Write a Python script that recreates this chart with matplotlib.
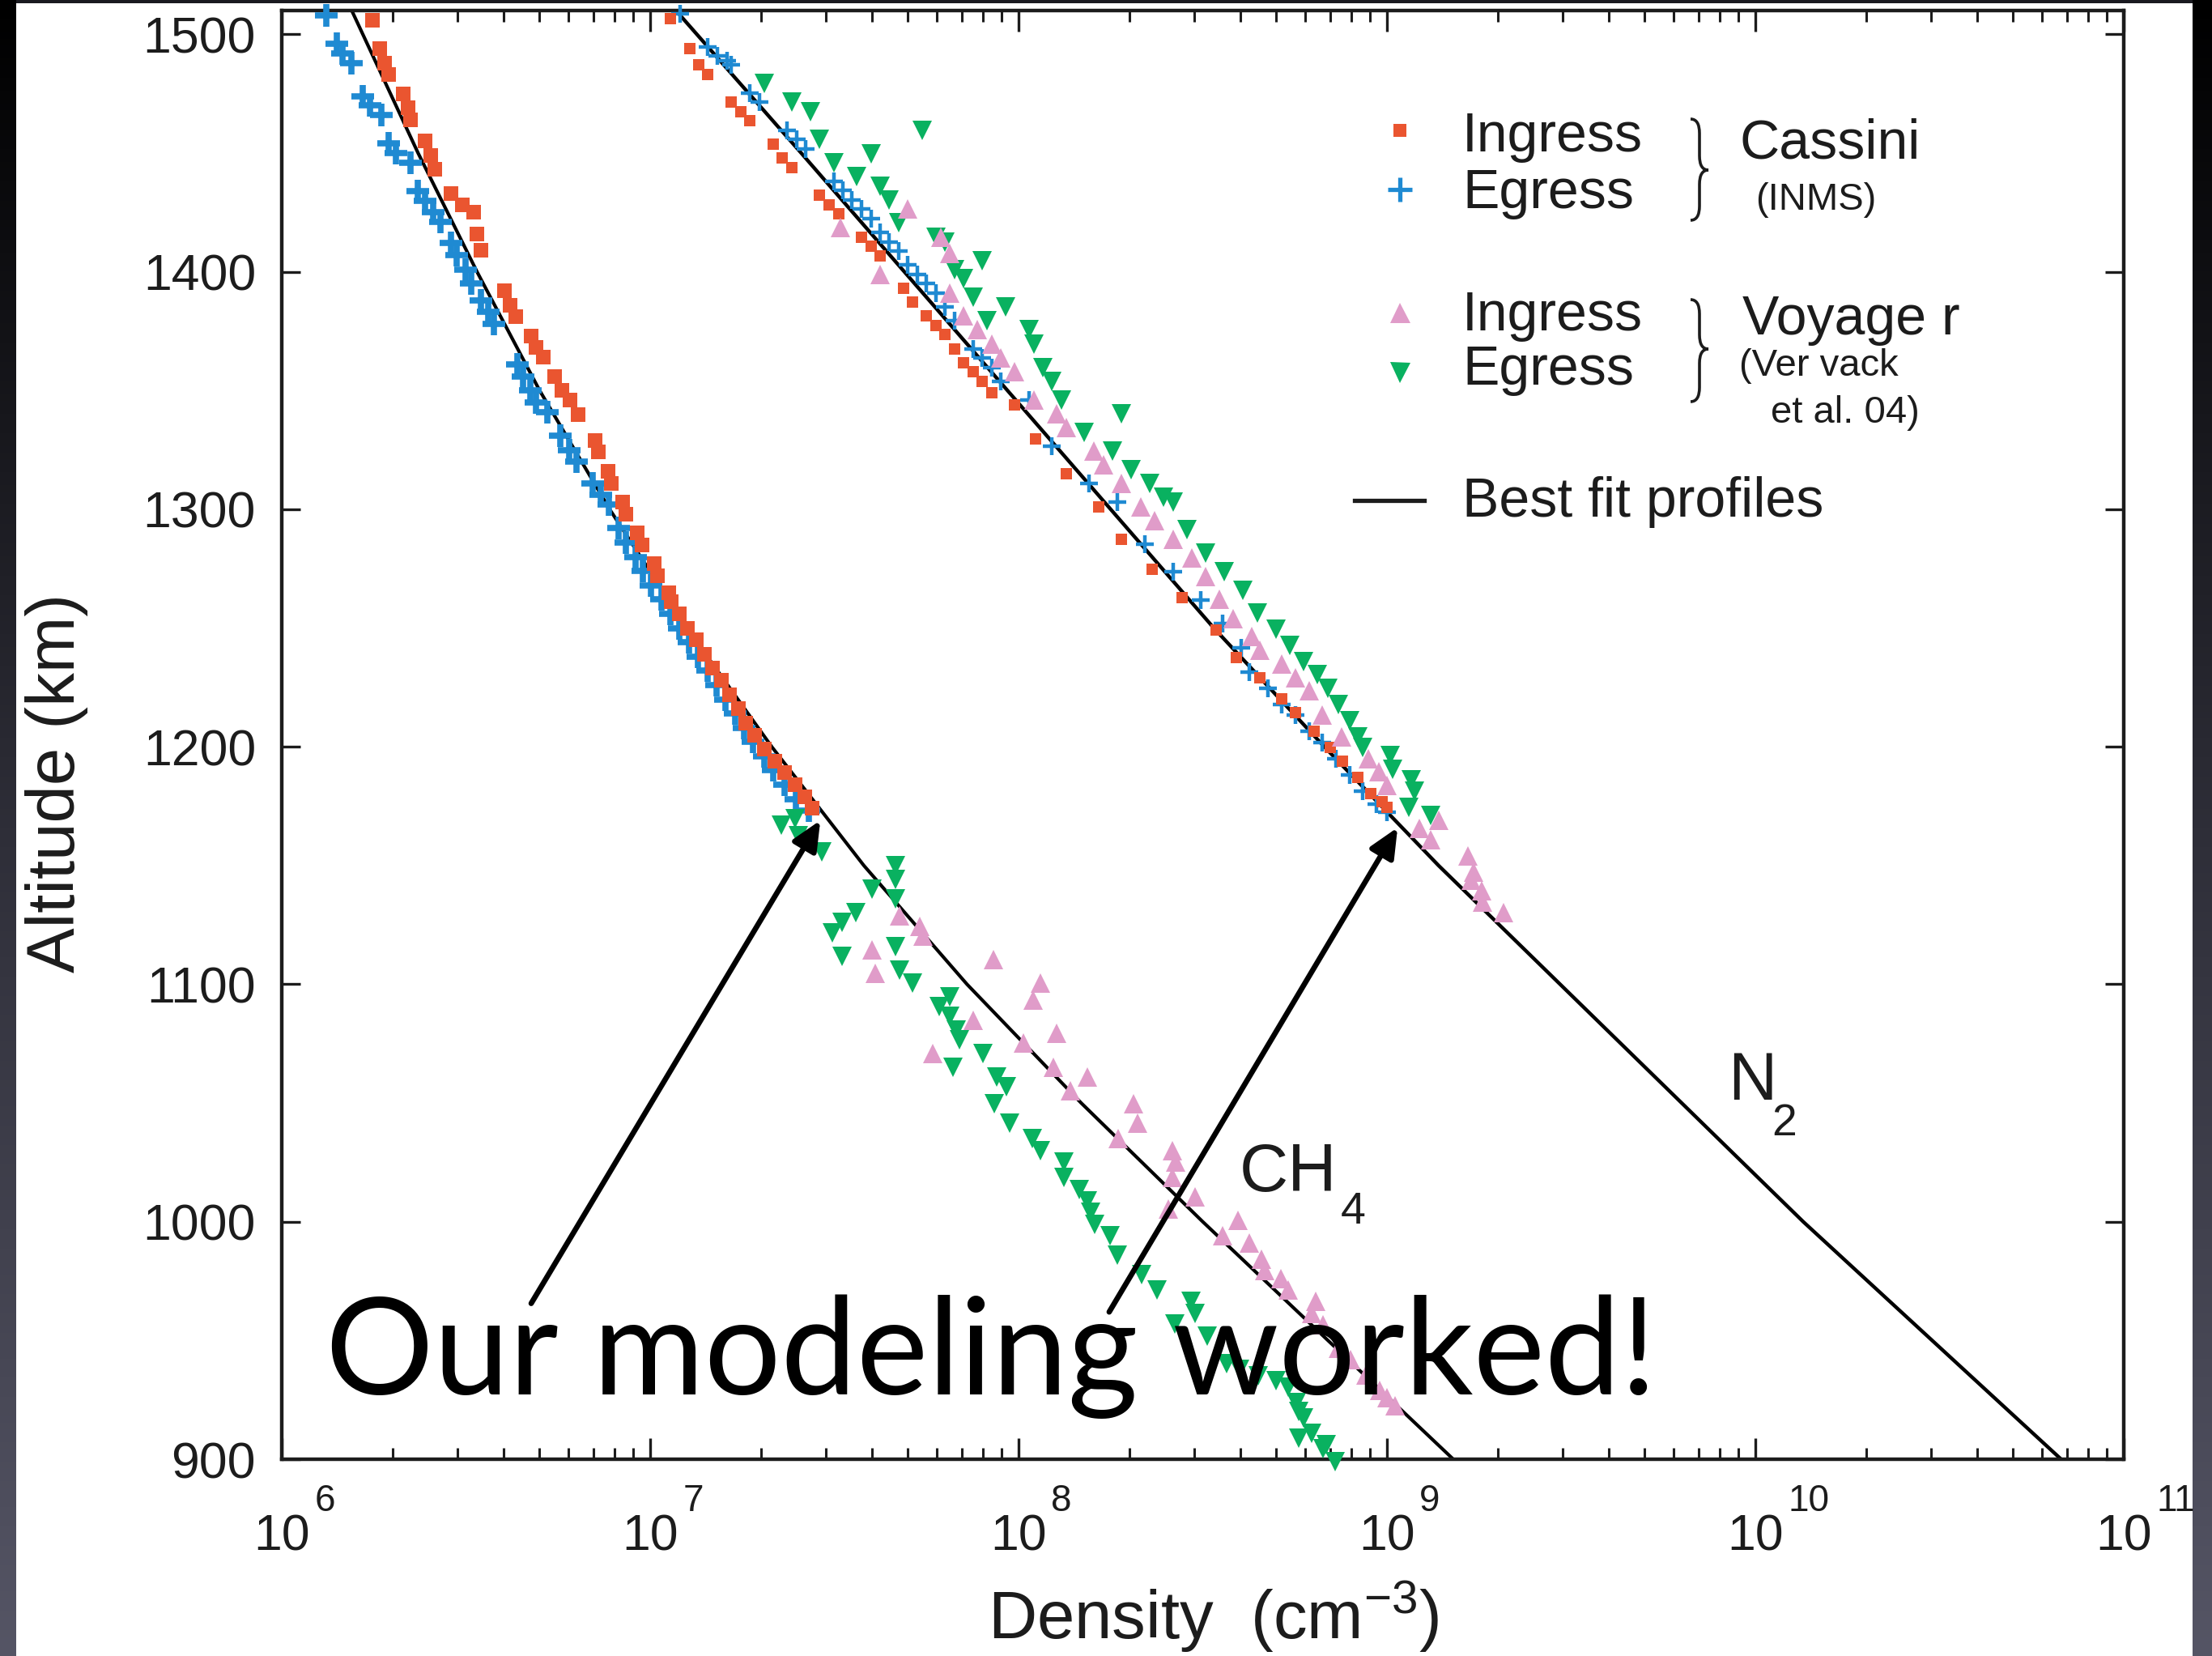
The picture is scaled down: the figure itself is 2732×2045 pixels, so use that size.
import numpy as np
import matplotlib
matplotlib.use("Agg")
import matplotlib.pyplot as plt
from matplotlib.path import Path
from matplotlib.patches import PathPatch, Rectangle, FancyArrowPatch
from matplotlib.lines import Line2D
from matplotlib.colors import LinearSegmentedColormap
from matplotlib.ticker import LogLocator, NullFormatter

plt.rcParams['font.family'] = ['Liberation Sans', 'DejaVu Sans']
plt.rcParams['mathtext.fontset'] = 'custom'
plt.rcParams['mathtext.rm'] = 'Liberation Sans'
plt.rcParams['mathtext.default'] = 'regular'

# ---- data (density given as log10 of cm^-3) ----
alt_ticks = [900, 1000, 1100, 1200, 1300, 1400, 1500]
x_exps = [6, 7, 8, 9, 10, 11]

fit_alt = [1510, 1450, 1400, 1350, 1300, 1250, 1200, 1150, 1100, 1050, 1000, 950, 900]
ch4_fit_logn = [6.19, 6.37, 6.53, 6.70, 6.89, 7.10, 7.33, 7.58, 7.86, 8.17, 8.50, 8.84, 9.18]
n2_fit_logn = [7.07, 7.41, 7.69, 7.97, 8.25, 8.53, 8.83, 9.14, 9.47, 9.80, 10.13, 10.48, 10.83]

# Cassini INMS, CH4
ch4_inms_in_alt = [1506, 1494, 1488, 1483, 1475, 1469, 1464, 1455, 1449, 1443, 1433, 1428, 1425,
                   1416, 1409, 1392, 1386, 1381, 1373, 1368, 1364, 1356, 1350, 1346, 1340, 1329,
                   1324, 1316, 1311, 1303, 1298, 1290, 1285, 1277, 1272, 1265, 1261, 1256, 1250,
                   1245, 1239, 1233, 1228, 1222, 1216, 1210, 1205, 1199, 1194, 1189, 1184, 1179, 1174]
ch4_inms_in_logn = [6.246, 6.265, 6.28, 6.29, 6.33, 6.343, 6.35, 6.39, 6.404, 6.415, 6.46, 6.49, 6.52,
                    6.53, 6.54, 6.605, 6.62, 6.635, 6.677, 6.69, 6.709, 6.741, 6.76, 6.782, 6.804, 6.85,
                    6.86, 6.885, 6.895, 6.925, 6.935, 6.965, 6.978, 7.01, 7.02, 7.05, 7.057, 7.08, 7.102,
                    7.125, 7.148, 7.17, 7.193, 7.215, 7.239, 7.26, 7.284, 7.31, 7.339, 7.365, 7.394, 7.42, 7.44]
ch4_inms_eg_alt = [1508, 1496, 1492, 1488, 1474, 1470, 1466, 1454, 1450, 1446, 1434, 1430, 1425, 1421,
                   1412, 1407, 1401, 1395, 1388, 1383, 1378, 1361, 1356, 1350, 1345, 1341, 1331, 1325,
                   1320, 1311, 1306, 1302, 1292, 1286, 1280, 1274, 1268, 1262, 1256, 1250, 1244, 1238,
                   1232, 1226, 1220, 1214, 1208, 1202, 1196, 1190, 1184, 1178, 1173]
ch4_inms_eg_logn = [6.12, 6.15, 6.165, 6.19, 6.22, 6.24, 6.27, 6.29, 6.31, 6.35, 6.37, 6.39, 6.41, 6.43,
                    6.46, 6.475, 6.50, 6.515, 6.54, 6.56, 6.575, 6.64, 6.655, 6.675, 6.69, 6.72, 6.755, 6.78,
                    6.80, 6.845, 6.865, 6.888, 6.915, 6.935, 6.96, 6.98, 7.003, 7.03, 7.055, 7.08, 7.105, 7.13,
                    7.155, 7.18, 7.205, 7.23, 7.255, 7.28, 7.31, 7.335, 7.365, 7.395, 7.43]

# Voyager, CH4
ch4_voy_in_alt = [1128.7, 1124.5, 1120.3, 1114.6, 1104.7, 1110.4, 1100.5, 1093.4, 1084.9, 1079.3, 1075.1,
                  1070.8, 1065.2, 1060.9, 1055.3, 1049.6, 1041.4, 1034.9, 1030.0, 1025.1, 1018.6, 1010.4,
                  1005.5, 1000.6, 994.1, 990.9, 984.3, 979.4, 976.2, 971.3, 966.4, 961.5, 956.6, 946.8,
                  941.9, 935.4, 929, 926, 922.5]
ch4_voy_in_logn = [7.676, 7.731, 7.740, 7.603, 7.612, 7.931, 8.059, 8.040, 7.876, 8.104, 8.013,
                   7.767, 8.095, 8.186, 8.141, 8.312, 8.322, 8.270, 8.417, 8.427, 8.417, 8.480,
                   8.406, 8.595, 8.553, 8.627, 8.659, 8.669, 8.711, 8.732, 8.806, 8.795, 8.827, 8.869,
                   8.901, 8.943, 8.98, 9.00, 9.022]
ch4_voy_eg_alt = [1169.7, 1166.9, 1162.7, 1155.6, 1149.9, 1144.3, 1140.1, 1135.8, 1130.2, 1125.9, 1121.7,
                  1111.8, 1116.0, 1106.1, 1100.5, 1094.8, 1090.6, 1086.4, 1080.7, 1076.5, 1070.8, 1065.2,
                  1060.9, 1056.7, 1049.6, 1041.4, 1034.9, 1030.0, 1025.1, 1018.6, 1013.7, 1008.8, 1003.9,
                  999.0, 994.1, 986.0, 977.8, 971.3, 966.4, 961.5, 957, 951.7, 940.3, 938, 935, 933,
                  930.5, 924.0, 920, 917.4, 910.9, 909, 906, 904.4, 899]
ch4_voy_eg_logn = [7.394, 7.357, 7.403, 7.467, 7.667, 7.667, 7.603, 7.667, 7.558, 7.521, 7.494,
                   7.521, 7.667, 7.676, 7.712, 7.813, 7.785, 7.813, 7.831, 7.840, 7.904, 7.822,
                   7.940, 7.968, 7.933, 7.975, 8.038, 8.059, 8.122, 8.122, 8.164, 8.186, 8.196,
                   8.206, 8.248, 8.269, 8.333, 8.375, 8.469, 8.480, 8.424, 8.511, 8.564, 8.60, 8.65, 8.70,
                   8.732, 8.753, 8.760, 8.774, 8.795, 8.76, 8.835, 8.827, 8.86]

# Cassini INMS, N2
n2_inms_in_alt = [1506.6, 1493.9, 1487.0, 1483.1, 1471.3, 1467.4, 1463.5, 1453.7, 1447.9, 1443.9, 1432.2,
                  1428.3, 1424.4, 1414.6, 1410.7, 1406.8, 1393.1, 1387.2, 1381.3, 1377.4, 1373.5, 1367.6,
                  1361.8, 1357.8, 1353.9, 1349.0, 1344.1, 1329.5, 1314.8, 1301.1, 1287.4, 1274.7, 1262.9,
                  1249.0, 1237.7, 1229.2, 1220.1, 1214.4, 1206.4, 1199.6, 1193.9, 1187.1, 1180.3, 1176.9, 1174.6]
n2_inms_in_logn = [7.056, 7.107, 7.132, 7.157, 7.220, 7.246, 7.271, 7.334, 7.359, 7.385, 7.460,
                   7.485, 7.511, 7.574, 7.599, 7.624, 7.687, 7.712, 7.750, 7.776, 7.801, 7.826,
                   7.851, 7.876, 7.902, 7.927, 7.990, 8.047, 8.129, 8.217, 8.280, 8.362, 8.444,
                   8.536, 8.591, 8.656, 8.715, 8.752, 8.803, 8.847, 8.880, 8.920, 8.957, 8.986, 9.001]
n2_inms_eg_alt = [1508.5, 1494.8, 1490.9, 1489.0, 1487.0, 1475.3, 1471.3, 1459.6, 1455.7, 1451.8, 1438.1,
                  1434.2, 1430.3, 1426.3, 1422.4, 1416.6, 1412.6, 1408.7, 1402.9, 1398.9, 1395.0, 1391.1,
                  1385.3, 1379.4, 1367.6, 1363.7, 1359.8, 1353.9, 1346.1, 1326.5, 1310.9, 1303.0, 1285.4,
                  1273.7, 1261.9, 1251.9, 1241.7, 1231.4, 1224.6, 1217.8, 1213.2, 1206.4, 1201.9, 1195.1,
                  1188.2, 1181.4, 1175.7, 1172.3]
n2_inms_eg_logn = [7.082, 7.157, 7.183, 7.208, 7.220, 7.271, 7.296, 7.372, 7.397, 7.422, 7.498,
                   7.523, 7.548, 7.574, 7.599, 7.624, 7.649, 7.675, 7.700, 7.725, 7.750, 7.776,
                   7.801, 7.826, 7.876, 7.902, 7.927, 7.952, 8.028, 8.091, 8.192, 8.268, 8.343,
                   8.419, 8.495, 8.554, 8.605, 8.627, 8.678, 8.715, 8.752, 8.788, 8.825, 8.862,
                   8.898, 8.935, 8.971, 9.001]

# Voyager, N2
n2_voy_in_alt = [1418.5, 1398.9, 1426.3, 1414.6, 1407.7, 1391.1, 1381.3, 1375.5, 1369.6, 1363.7, 1357.8,
                 1346.1, 1340.2, 1334.4, 1324.6, 1318.7, 1310.9, 1301.1, 1295.2, 1287.4, 1279.6, 1271.7,
                 1262.0, 1254.1, 1246.3, 1240.5, 1234.8, 1229.2, 1223.5, 1213.2, 1204.1, 1195.1, 1189.4,
                 1183.7, 1168.9, 1165.5, 1161.0, 1154.1, 1147.3, 1143.7, 1139.4, 1134.6, 1130.3]
n2_voy_in_logn = [7.517, 7.624, 7.700, 7.788, 7.813, 7.813, 7.851, 7.889, 7.927, 7.952, 7.990,
                  8.041, 8.104, 8.129, 8.205, 8.230, 8.280, 8.331, 8.369, 8.419, 8.470, 8.507,
                  8.545, 8.583, 8.633, 8.656, 8.715, 8.752, 8.788, 8.825, 8.876, 8.949, 8.979,
                  9.001, 9.140, 9.089, 9.118, 9.220, 9.235, 9.229, 9.257, 9.259, 9.316]
n2_voy_eg_alt = [1479.2, 1471.3, 1467.4, 1455.7, 1445.9, 1440.0, 1449.8, 1436.1, 1430.3, 1420.5, 1459.6,
                 1414.6, 1412.6, 1400.9, 1397.0, 1389.2, 1404.8, 1379.4, 1385.3, 1375.5, 1369.6, 1359.8,
                 1353.9, 1346.1, 1332.4, 1340.2, 1324.6, 1316.7, 1310.9, 1305.0, 1303.0, 1291.3, 1281.5,
                 1273.7, 1265.9, 1256.4, 1249.6, 1242.8, 1236.0, 1230.3, 1224.6, 1217.8, 1211.0, 1204.2,
                 1199.6, 1196.2, 1190.5, 1186.0, 1181.4, 1174.6, 1171.2]
n2_voy_eg_logn = [7.309, 7.385, 7.435, 7.460, 7.498, 7.561, 7.599, 7.624, 7.649, 7.675, 7.738,
                  7.776, 7.801, 7.826, 7.851, 7.876, 7.902, 7.914, 7.965, 8.028, 8.041, 8.066,
                  8.091, 8.116, 8.179, 8.280, 8.255, 8.306, 8.356, 8.394, 8.419, 8.457, 8.507,
                  8.558, 8.608, 8.649, 8.700, 8.737, 8.774, 8.810, 8.840, 8.869, 8.898, 8.920,
                  8.935, 9.008, 9.015, 9.067, 9.074, 9.059, 9.118]

RED = '#ea5530'
BLUE = '#1f8ad2'
PINK = '#e09cc9'
GREEN = '#09b160'
INK = '#1c1c1c'

W, H = 2732, 2045


def fpos(x, y):
    # reference pixel -> figure fraction
    return x / W, 1 - y / H


fig = plt.figure(figsize=(W / 100, H / 100), dpi=100, facecolor='#1a1a20')

# slide background strips and white picture area
slide = LinearSegmentedColormap.from_list('slide', ['#000000', '#2e2e38', '#555565'])
grad = np.linspace(0, 1, 256).reshape(-1, 1)
for x0, x1 in [(0, 20), (2708, W)]:
    bax = fig.add_axes([x0 / W, 0, (x1 - x0) / W, 1])
    bax.imshow(grad, aspect='auto', cmap=slide)
    bax.axis('off')
fig.add_artist(Rectangle((20 / W, 0), (2708 - 20) / W, 1 - 4 / H, transform=fig.transFigure,
                         facecolor='white', edgecolor='none', zorder=-1))

ax = fig.add_axes([348 / W, 1 - 1802 / H, (2623 - 348) / W, (1802 - 13) / H])
ax.set_facecolor('none')
ax.set_xscale('log')
ax.set_xlim(1e6, 1e11)
ax.set_ylim(900, 1510)

mk = dict(ls='none', clip_on=False, zorder=3)
ax.plot(10 ** np.array(ch4_fit_logn), fit_alt, color='black', lw=3, zorder=2)
ax.plot(10 ** np.array(n2_fit_logn), fit_alt, color='black', lw=3.2, zorder=2)

ax.plot(10 ** np.array(ch4_inms_eg_logn), ch4_inms_eg_alt, marker='+', ms=20, mew=5.5, color=BLUE, **mk)
ax.plot(10 ** np.array(n2_inms_eg_logn), n2_inms_eg_alt, marker='+', ms=16, mew=3.2, color=BLUE, **mk)
ax.plot(10 ** np.array(ch4_inms_in_logn), ch4_inms_in_alt, marker='s', ms=12.5, mew=0, color=RED, **mk)
ax.plot(10 ** np.array(n2_inms_in_logn), n2_inms_in_alt, marker='s', ms=10, mew=0, color=RED, **mk)
ax.plot(10 ** np.array(ch4_voy_eg_logn), ch4_voy_eg_alt, marker='v', ms=17, mew=0, color=GREEN, **mk)
ax.plot(10 ** np.array(n2_voy_eg_logn), n2_voy_eg_alt, marker='v', ms=17, mew=0, color=GREEN, **mk)
ax.plot(10 ** np.array(ch4_voy_in_logn), ch4_voy_in_alt, marker='^', ms=17, mew=0, color=PINK, **mk)
ax.plot(10 ** np.array(n2_voy_in_logn), n2_voy_in_alt, marker='^', ms=17, mew=0, color=PINK, **mk)

# axes styling
for sp in ax.spines.values():
    sp.set_linewidth(3.2)
    sp.set_color(INK)
ax.set_yticks(alt_ticks)
ax.tick_params(axis='y', which='major', direction='in', length=16.5, width=2.4, right=True,
               labelsize=45, pad=23, colors=INK)
ax.xaxis.set_major_locator(LogLocator(base=10, numticks=12))
ax.xaxis.set_minor_locator(LogLocator(base=10, subs=np.arange(2, 10), numticks=12))
ax.xaxis.set_minor_formatter(NullFormatter())
ax.tick_params(axis='x', which='major', direction='in', length=18.7, width=2.4, top=True,
               labelbottom=False, colors=INK)
ax.tick_params(axis='x', which='minor', direction='in', length=10, width=2.2, top=True, colors=INK)

for e in x_exps:
    ax.annotate("10", xy=(10.0 ** e, 0), xycoords=('data', 'axes fraction'), xytext=(0, -81),
                textcoords='offset points', ha='center', va='baseline', fontsize=45, color=INK,
                annotation_clip=False)
    ax.annotate(str(e), xy=(10.0 ** e, 0), xycoords=('data', 'axes fraction'), xytext=(29, -46),
                textcoords='offset points', ha='left', va='baseline', fontsize=33, color=INK,
                annotation_clip=False)

fig.text(*fpos(70, 967), "Altitude (km)", rotation=90, ha='center', va='center', fontsize=60, color=INK)
fig.text(*fpos(1220, 2024), "Density  (cm$^{-3}$)", ha='left', va='baseline', fontsize=60, color=INK)

# species labels
fig.text(*fpos(1531, 1471), "CH", ha='left', va='baseline', fontsize=60, color=INK)
fig.text(*fpos(1656, 1511), "4", ha='left', va='baseline', fontsize=40, color=INK)
fig.text(*fpos(2134, 1358), "N", ha='left', va='baseline', fontsize=60, color=INK)
fig.text(*fpos(2188, 1402), "2", ha='left', va='baseline', fontsize=40, color=INK)

# legend, drawn by hand
def legend_mark(x, y, **kw):
    fx, fy = fpos(x, y)
    fig.add_artist(Line2D([fx], [fy], transform=fig.transFigure, ls='none', **kw))


legend_mark(1729, 161, marker='s', ms=11, mew=0, color=RED)
legend_mark(1729, 234, marker='+', ms=21, mew=3.8, color=BLUE)
legend_mark(1729, 386, marker='^', ms=18, mew=0, color=PINK)
legend_mark(1729, 460, marker='v', ms=18, mew=0, color=GREEN)
fig.add_artist(Line2D([1673 / W, 1759 / W], [1 - 618 / H] * 2, transform=fig.transFigure,
                      color=INK, lw=3.8))

big = 49
small = 34
for x, y, s, fs in [(1806, 187, "Ingress", big), (1806, 257, "Egress", big),
                    (2148, 196, "Cassini", big), (2168, 259, "(INMS)", small),
                    (1806, 408, "Ingress", big), (1806, 475, "Egress", big),
                    (2152, 413, "Voyage r", big), (2148, 464, "(Ver vack", small),
                    (2187, 522, "et al. 04)", small), (1806, 638, "Best fit profiles", big)]:
    fig.text(*fpos(x, y), s, ha='left', va='baseline', fontsize=fs, color=INK)


def brace(x0, top, mid, bot, w):
    xm = x0 + w / 2
    r = w * 0.8
    pts = [(x0, top), (xm, top), (xm, top + r), (xm, mid - r), (xm, mid), (x0 + w, mid),
           (xm, mid), (xm, mid + r), (xm, bot - r), (xm, bot), (x0, bot)]
    codes = [Path.MOVETO, Path.CURVE3, Path.CURVE3, Path.LINETO, Path.CURVE3, Path.CURVE3,
             Path.CURVE3, Path.CURVE3, Path.LINETO, Path.CURVE3, Path.CURVE3]
    verts = [fpos(x, y) for x, y in pts]
    fig.add_artist(PathPatch(Path(verts, codes), fill=False, lw=2.6, edgecolor=INK,
                             transform=fig.transFigure))


brace(2088, 147, 210, 272, 22)
brace(2088, 370, 431, 496, 22)

# slide annotation
for tail, head in [((10 ** 6.677, 965.6), (10 ** 7.462, 1169.0)),
                   ((10 ** 8.246, 962.0), (10 ** 9.029, 1166.0))]:
    ax.add_patch(FancyArrowPatch(tail, head, arrowstyle='-|>,head_length=22,head_width=10',
                                 mutation_scale=1, lw=4.8, color='black', shrinkA=0, shrinkB=0,
                                 zorder=6, clip_on=False))

title = fig.text(*fpos(402, 1722), "Our modeling worked!", ha='left', va='baseline',
                 fontsize=124, family=['Lato', 'DejaVu Sans'], color='black', zorder=7)
fig.canvas.draw()
bb = title.get_window_extent()
title.set_fontsize(124 * 1645 / bb.width)

fig.savefig('out.png', dpi=100, facecolor=fig.get_facecolor())
